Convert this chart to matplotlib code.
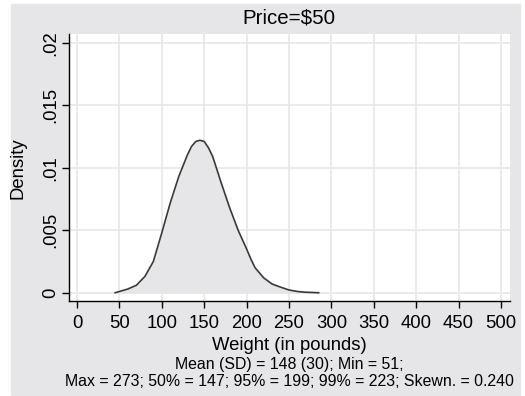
import matplotlib.pyplot as plt
from matplotlib.patches import Rectangle

plt.rcParams['font.family'] = ['Liberation Sans', 'DejaVu Sans']

W, H = 525, 396

# kernel density of weight
weight = [45, 50, 60, 70, 80, 90, 100, 110, 120, 130, 135, 140, 145, 150,
          155, 160, 170, 180, 190, 200, 205, 210, 220, 230, 240, 250, 260,
          270, 285]
density = [0.0, 0.0001, 0.0003, 0.0006, 0.0013, 0.0025, 0.0048, 0.0072,
           0.0093, 0.0110, 0.0117, 0.0121, 0.0122, 0.0121, 0.0116, 0.0109,
           0.0088, 0.0068, 0.0050, 0.0035, 0.0027, 0.0020, 0.0012, 0.0007,
           0.00045, 0.00022, 0.0001, 0.00004, 0.0]

x_ticks = [0, 50, 100, 150, 200, 250, 300, 350, 400, 450, 500]
y_ticks = [0, 0.005, 0.01, 0.015, 0.02]
y_tick_labels = ['0', '.005', '.01', '.015', '.02']

title = 'Price=$50'
x_label = 'Weight (in pounds)'
note_1 = 'Mean (SD) = 148 (30); Min = 51;'
note_2 = 'Max = 273; 50% = 147; 95% = 199; 99% = 223; Skewn. = 0.240'

BG = '#e6e6e8'
GRID = '#e6e6e6'


def fx(px):
    return px / W


def fy(py):
    return 1 - py / H


def plot_chart():
    fig = plt.figure(figsize=(W / 100, H / 100), dpi=100)
    fig.patches.append(Rectangle((fx(11), fy(395)), fx(520 - 11), (395 - 4) / H,
                                 transform=fig.transFigure, color=BG, zorder=-10))

    ax = fig.add_axes([fx(69.3), fy(301), fx(510 - 69.3), (301 - 34) / H])
    ax.set_facecolor('white')

    ax.fill_between(weight, density, color=BG, lw=0, zorder=2)
    ax.plot(weight, density, color='#3a3a3a', lw=1.2, zorder=3)

    ax.set_xlim(-9.1, 510.6)
    ax.set_ylim(-0.00066, 0.0207)
    ax.set_xticks(x_ticks)
    ax.set_yticks(y_ticks)
    ax.set_yticklabels(y_tick_labels, rotation=90, va='center')
    ax.tick_params(axis='both', labelsize=13.3, length=5, width=1, color='black')
    ax.tick_params(axis='x', pad=5)
    ax.tick_params(axis='y', pad=2)
    ax.grid(True, color=GRID, lw=1.2, zorder=0)
    ax.set_axisbelow(True)

    for side in ['top', 'right']:
        ax.spines[side].set_visible(False)
    for side in ['left', 'bottom']:
        ax.spines[side].set_linewidth(1)

    fig.text(fx(18), fy(168), 'Density', rotation=90, ha='center', va='center', fontsize=13.3)
    fig.text(fx(289), fy(18), title, ha='center', va='center', fontsize=14.8)
    fig.text(fx(289), fy(346), x_label, ha='center', va='center', fontsize=13.3)
    fig.text(fx(289), fy(365), note_1, ha='center', va='center', fontsize=11.4)
    fig.text(fx(289), fy(381), note_2, ha='center', va='center', fontsize=11.4)

    fig.savefig('out.png', dpi=100)


if __name__ == '__main__':
    plot_chart()
